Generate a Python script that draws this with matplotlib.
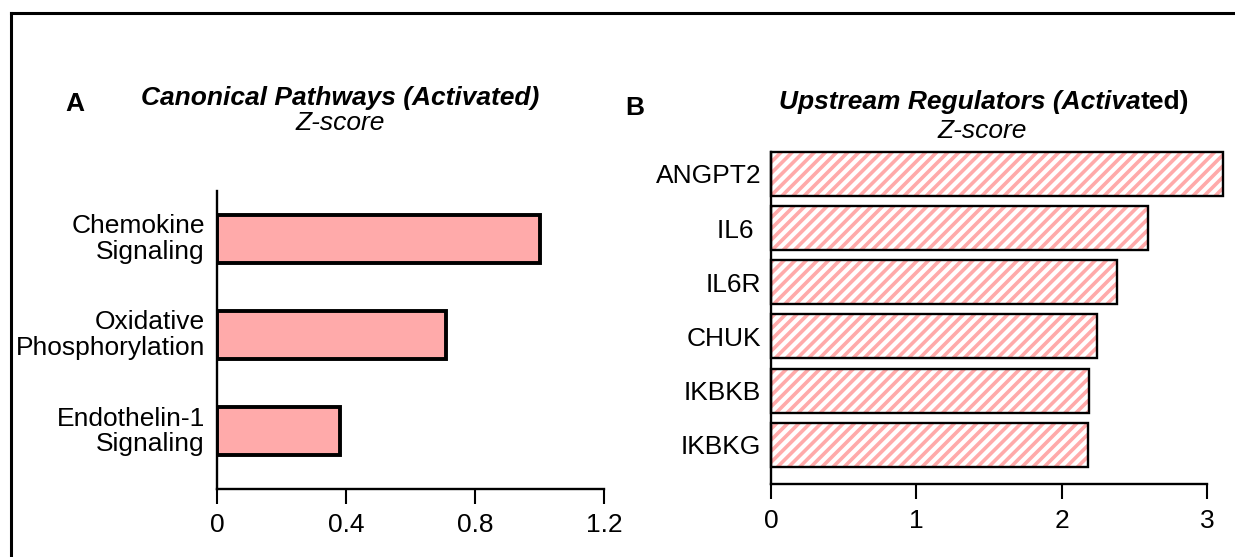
import matplotlib
matplotlib.use("Agg")
import matplotlib.pyplot as plt
from matplotlib.lines import Line2D
from matplotlib.transforms import ScaledTranslation

plt.rcParams['font.family'] = ['Liberation Sans', 'DejaVu Sans']
plt.rcParams['hatch.linewidth'] = 2.6

# canonical pathways (panel A), bottom to top
pathway_names = ["Endothelin-1\nSignaling", "Oxidative\nPhosphorylation", "Chemokine\nSignaling"]
pathway_z = [0.38, 0.71, 1.0]
pathway_ticks = [0, 0.4, 0.8, 1.2]
pathway_tick_labels = ["0", "0.4", "0.8", "1.2"]

# upstream regulators (panel B), bottom to top
regulator_names = ["IKBKG", "IKBKB", "CHUK", "IL6R", "IL6 ", "ANGPT2"]
regulator_z = [2.18, 2.19, 2.24, 2.38, 2.59, 3.11]
regulator_ticks = [0, 1, 2, 3]
regulator_tick_labels = ["0", "1", "2", "3"]

PINK = "#ffaaaa"
W, H = 1235, 557
FS = 19


def fx(x):
    return x / W


def fy(y):
    return 1 - y / H


def style_axis(ax, spine_w):
    ax.spines['top'].set_visible(False)
    ax.spines['right'].set_visible(False)
    ax.spines['left'].set_linewidth(spine_w)
    ax.spines['bottom'].set_linewidth(spine_w)
    ax.tick_params(axis='y', length=0, labelsize=FS)
    ax.tick_params(axis='x', direction='out', length=10.5, width=1.5, labelsize=19, pad=7)


def main():
    fig = plt.figure(figsize=(W / 100, H / 100), dpi=100)

    # outer frame (only left and top edges visible in the crop)
    fig.add_artist(Line2D([fx(11), fx(11)], [fy(13), -0.1], color='black', lw=2.2))
    fig.add_artist(Line2D([fx(11), 1.1], [fy(13), fy(13)], color='black', lw=2.2))

    # ---- panel A
    ax1 = fig.add_axes([fx(217.3), fy(488.7), (604 - 217.3) / W, (488.7 - 190.7) / H])
    ypos = list(range(len(pathway_names)))
    ax1.barh(ypos, pathway_z, height=0.5, color=PINK, edgecolor='black', linewidth=2.8)
    ax1.set_xlim(0, 1.2)
    ax1.set_ylim(-0.6, 2.5)
    ax1.set_xticks(pathway_ticks)
    ax1.set_xticklabels(pathway_tick_labels)
    ax1.set_yticks(ypos)
    ax1.set_yticklabels(pathway_names, multialignment='right', linespacing=1.1)
    style_axis(ax1, 1.7)
    ax1.tick_params(axis='y', pad=9)
    # labels sit a little above the bar centre in the original
    shift = ScaledTranslation(0, 3 / 100, fig.dpi_scale_trans)
    for lab in ax1.get_yticklabels():
        lab.set_transform(lab.get_transform() + shift)

    # ---- panel B
    ax2 = fig.add_axes([fx(771), fy(484.3), (1207.3 - 771) / W, (484.3 - 151.7) / H])
    ypos2 = list(range(len(regulator_names)))
    ax2.barh(ypos2, regulator_z, height=0.81, color='white', edgecolor=PINK,
             linewidth=0, hatch='///', clip_on=False)
    ax2.barh(ypos2, regulator_z, height=0.81, fill=False, edgecolor='black',
             linewidth=1.7, clip_on=False)
    ax2.set_xlim(0, 3)
    ax2.set_ylim(-0.73, 5.41)
    ax2.set_xticks(regulator_ticks)
    ax2.set_xticklabels(regulator_tick_labels)
    ax2.set_yticks(ypos2)
    ax2.set_yticklabels(regulator_names)
    style_axis(ax2, 1.7)
    ax2.tick_params(axis='y', pad=7)

    # ---- titles and panel letters
    fig.text(fx(75), fy(111), "A", fontsize=FS, fontweight='bold', ha='center', va='baseline')
    fig.text(fx(340), fy(105), "Canonical Pathways (Activated)", fontsize=FS,
             fontweight='bold', fontstyle='italic', ha='center', va='baseline')
    fig.text(fx(340), fy(129.5), "Z-score", fontsize=FS, fontstyle='italic',
             ha='center', va='baseline')

    fig.text(fx(635), fy(115), "B", fontsize=FS, fontweight='bold', ha='center', va='baseline')
    t1 = fig.text(fx(779), fy(109.5), "Upstream Regulators (Activa", fontsize=FS,
                  fontweight='bold', fontstyle='italic', ha='left', va='baseline')
    t2 = fig.text(0, fy(109.5), "ted)", fontsize=FS, fontweight='bold', ha='left',
                  va='baseline')
    # place the upright part right after the italic part
    fig.canvas.draw()
    bb = t1.get_window_extent()
    t2.set_x(bb.x1 / W)
    fig.text(fx(982), fy(137.5), "Z-score", fontsize=FS, fontstyle='italic',
             ha='center', va='baseline')

    fig.savefig("out.png", dpi=100)


if __name__ == '__main__':
    main()
